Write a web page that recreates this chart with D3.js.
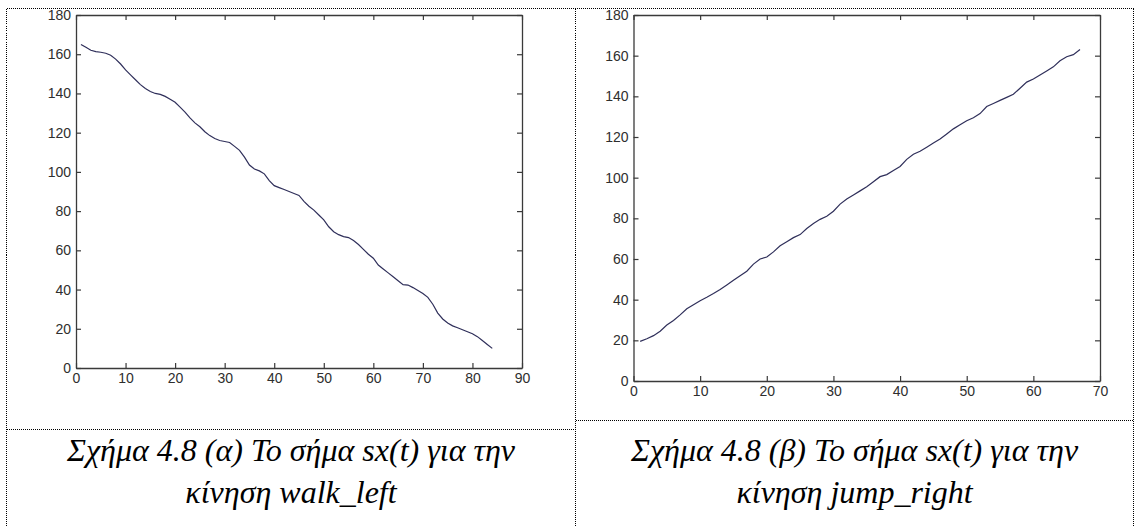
<!DOCTYPE html>
<html>
<head>
<meta charset="utf-8">
<script src="https://cdn.jsdelivr.net/npm/d3@7"></script>
<style>
  html, body { margin: 0; padding: 0; background: #fff; }
  svg { display: block; }
  .tick text { font-family: "Liberation Sans Narrow", "Liberation Sans", Arial, sans-serif; font-size: 14px; fill: #2e2e2e; }
  .caption { font-family: "Liberation Serif", "Times New Roman", serif; font-style: italic; font-size: 32px; fill: #000; }
</style>
</head>
<body>
<script>
// sx(t) for the walk_left motion, samples t = 1..84
const walkLeftT = d3.range(1, 85);
const walkLeftSx = [
  165, 163.5, 162, 161.3, 161, 160.5, 159.5, 157.5, 155, 152,
  149.5, 147, 144.5, 142.5, 141, 140, 139.5, 138.5, 137, 135.5,
  133, 130.5, 127.5, 125, 123, 120.5, 118.5, 117, 116, 115.5,
  115, 113, 111, 107.5, 103.5, 101.5, 100.5, 99, 95.5, 93,
  92, 91, 90, 89, 88, 85, 82.5, 80.5, 78, 75.5,
  72, 69.5, 68, 67, 66.5, 65, 63, 60.5, 58, 56,
  52.5, 50.5, 48.5, 46.5, 44.5, 42.5, 42.3, 41, 39.5, 38,
  36, 32.5, 28, 25, 23, 21.5, 20.5, 19.5, 18.5, 17.5,
  16, 14, 12, 10
];

// sx(t) for the jump_right motion, samples t = 1..67
const jumpRightT = d3.range(1, 68);
const jumpRightSx = [
  19.5, 20.8, 22.3, 24.5, 27.5, 29.8, 32.5, 35.5, 37.5, 39.5,
  41.2, 43, 45, 47.2, 49.5, 51.8, 54, 57.5, 60, 61,
  63.5, 66.5, 68.5, 70.5, 72, 75, 77.5, 79.5, 81, 83.5,
  87, 89.5, 91.5, 93.5, 95.5, 98, 100.5, 101.5, 103.5, 105.5,
  109, 111.5, 113, 115, 117, 119, 121.5, 124, 126, 128,
  129.5, 131.5, 135, 136.5, 138, 139.5, 141, 144, 147, 148.5,
  150.5, 152.5, 154.5, 157.5, 159.5, 160.5, 163
];

// axis ticks
const yTicks = [0, 20, 40, 60, 80, 100, 120, 140, 160, 180];
const xTicksLeft = [0, 10, 20, 30, 40, 50, 60, 70, 80, 90];
const xTicksRight = [0, 10, 20, 30, 40, 50, 60, 70];

// captions
const captionsLeft = ["Σχήμα 4.8 (α) Το σήμα sx(t) για την", "κίνηση walk_left"];
const captionsRight = ["Σχήμα 4.8 (β) Το σήμα sx(t) για την", "κίνηση jump_right"];

const W = 1135, H = 526;
const svg = d3.select("body").append("svg").attr("width", W).attr("height", H);

// table frame: dotted cell borders
const frame = svg.append("g")
  .attr("fill", "none").attr("stroke", "#000").attr("stroke-width", 1)
  .attr("stroke-dasharray", "1,1").attr("shape-rendering", "crispEdges");
const xL = 6.5, xM = 575.5, xR = 1133.5, yT = 8.5;
const sepL = 429.5, sepR = 420.5;
[[xL, yT, xR, yT], [xL, yT, xL, H], [xM, yT, xM, H], [xR, yT, xR, H],
 [xL, sepL, xM, sepL], [xM, sepR, xR, sepR]].forEach(([a, b, c, d]) =>
  frame.append("line").attr("x1", a).attr("y1", b).attr("x2", c).attr("y2", d));

function panel(box, xMax, xTicks, tValues, sValues) {
  const x = d3.scaleLinear().domain([0, xMax]).range([box.left, box.right]);
  const y = d3.scaleLinear().domain([0, 180]).range([box.bottom, box.top]);
  const g = svg.append("g");
  const tk = 5;

  const style = sel => {
    sel.select(".domain").attr("stroke", "#3a3a3a").attr("stroke-width", 1.3);
    sel.selectAll(".tick line").attr("stroke", "#3a3a3a").attr("stroke-width", 1.2);
  };

  g.append("g").attr("transform", `translate(0,${box.bottom})`)
    .call(d3.axisBottom(x).tickValues(xTicks).tickFormat(d3.format("d"))
      .tickSizeInner(-tk).tickSizeOuter(0).tickPadding(5.5))
    .call(style);
  g.append("g").attr("transform", `translate(0,${box.top})`)
    .call(d3.axisTop(x).tickValues(xTicks).tickFormat("")
      .tickSizeInner(-tk).tickSizeOuter(0))
    .call(style);
  g.append("g").attr("transform", `translate(${box.left},0)`)
    .call(d3.axisLeft(y).tickValues(yTicks).tickFormat(d3.format("d"))
      .tickSizeInner(-tk).tickSizeOuter(0).tickPadding(5))
    .call(style);
  g.append("g").attr("transform", `translate(${box.right},0)`)
    .call(d3.axisRight(y).tickValues(yTicks).tickFormat("")
      .tickSizeInner(-tk).tickSizeOuter(0))
    .call(style);

  g.selectAll(".tick text").attr("fill", "#2e2e2e");

  const line = d3.line().x((d, i) => x(tValues[i])).y(d => y(d));
  g.append("path").datum(sValues)
    .attr("fill", "none").attr("stroke", "#2f2f5a").attr("stroke-width", 1.2)
    .attr("d", line);
}

panel({ left: 76, right: 522, top: 15, bottom: 368 }, 90, xTicksLeft, walkLeftT, walkLeftSx);
panel({ left: 633.5, right: 1100, top: 15, bottom: 381 }, 70, xTicksRight, jumpRightT, jumpRightSx);

function caption(cx, lines) {
  const t = svg.append("g");
  lines.forEach((s, i) => {
    t.append("text").attr("class", "caption")
      .attr("x", cx).attr("y", 461 + i * 42)
      .attr("text-anchor", "middle").text(s);
  });
}
caption((xL + xM) / 2, captionsLeft);
caption((xM + xR) / 2, captionsRight);
</script>
</body>
</html>
